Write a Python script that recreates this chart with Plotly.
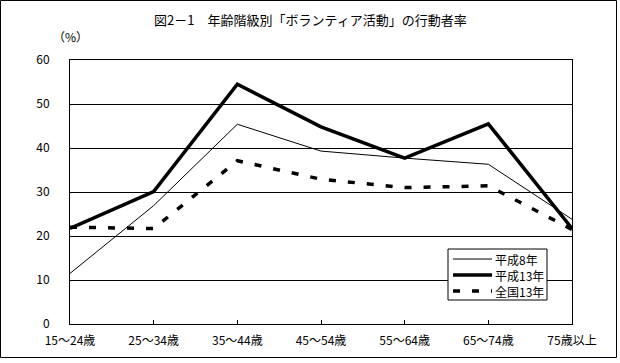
import plotly.graph_objects as go

categories = ["15～24歳", "25～34歳", "35～44歳", "45～54歳", "55～64歳", "65～74歳", "75歳以上"]
h8 = [11.5, 26.9, 45.4, 39.3, 37.7, 36.3, 23.8]
h13 = [21.7, 30.1, 54.5, 44.8, 37.7, 45.5, 21.7]
zenkoku13 = [22.0, 21.7, 37.1, 32.9, 31.0, 31.4, 21.5]
y_ticks = [0, 10, 20, 30, 40, 50, 60]
series_names = ["平成8年", "平成13年", "全国13年"]

FONT = "Noto Sans CJK JP"
L, R, T, B = 70, 48, 60, 39
W, H = 620, 363
pw, ph = W - L - R, H - T - B

styles = [dict(color="black", width=1),
          dict(color="black", width=3.5),
          dict(color="black", width=3.5, dash="7px,12px")]

fig = go.Figure()
for name, vals, st in zip(series_names, [h8, h13, zenkoku13], styles):
    fig.add_trace(go.Scatter(x=categories, y=vals, name=name, mode="lines",
                             line=st, showlegend=False, hoverinfo="skip"))

def px_x(p):
    return (p - L) / pw

def px_y(p):
    return (H - B - p) / ph

shapes = [
    dict(type="rect", xref="paper", yref="paper",
         x0=px_x(0.5), x1=px_x(616.5), y0=px_y(357.5), y1=px_y(0.5),
         line=dict(color="black", width=1), fillcolor="rgba(0,0,0,0)", layer="above"),
    dict(type="rect", xref="paper", yref="paper",
         x0=px_x(448), x1=px_x(547), y0=px_y(300), y1=px_y(249),
         line=dict(color="black", width=1), fillcolor="white", layer="above"),
]
annotations = [
    dict(text="図2－1　年齢階級別「ボランティア活動」の行動者率", xref="paper", yref="paper",
         x=px_x(310), y=px_y(19), xanchor="center", yanchor="middle",
         showarrow=False, font=dict(family=FONT, size=13)),
    dict(text="（%）", xref="paper", yref="paper",
         x=px_x(70), y=px_y(37), xanchor="center", yanchor="middle",
         showarrow=False, font=dict(family=FONT, size=12)),
]
row_y = [259, 275, 291]
for name, st, ry in zip(series_names, styles, row_y):
    shapes.append(dict(type="line", xref="paper", yref="paper",
                       x0=px_x(453), x1=px_x(492), y0=px_y(ry), y1=px_y(ry),
                       line=st, layer="above"))
    annotations.append(dict(text=name, xref="paper", yref="paper",
                            x=px_x(493), y=px_y(ry), xanchor="left", yanchor="middle",
                            showarrow=False, font=dict(family=FONT, size=12)))

fig.update_layout(
    width=W, height=H,
    margin=dict(l=L, r=R, t=T, b=B),
    paper_bgcolor="white", plot_bgcolor="white",
    font=dict(family=FONT, size=12, color="black"),
    showlegend=False,
    hovermode=False,
    xaxis=dict(type="category", categoryorder="array", categoryarray=categories,
               range=[0, 6], showgrid=False, showline=True, linecolor="black",
               linewidth=1, mirror=True, ticks="inside", ticklen=4,
               tickcolor="black", tickfont=dict(family=FONT, size=12),
               ticklabelstandoff=6, zeroline=False, automargin=False),
    yaxis=dict(range=[0, 60], tickvals=y_ticks, ticktext=[str(v) for v in y_ticks],
               showgrid=True, gridcolor="black", gridwidth=1,
               showline=True, linecolor="black", linewidth=1, mirror=True,
               ticks="", ticklabelstandoff=17, zeroline=False, automargin=False,
               tickfont=dict(family=FONT, size=12)),
    annotations=annotations,
    shapes=shapes,
)

fig.write_html("out.html", config={"displayModeBar": False, "staticPlot": True},
               post_script="document.body.style.margin='0';document.body.style.overflow='hidden';")
